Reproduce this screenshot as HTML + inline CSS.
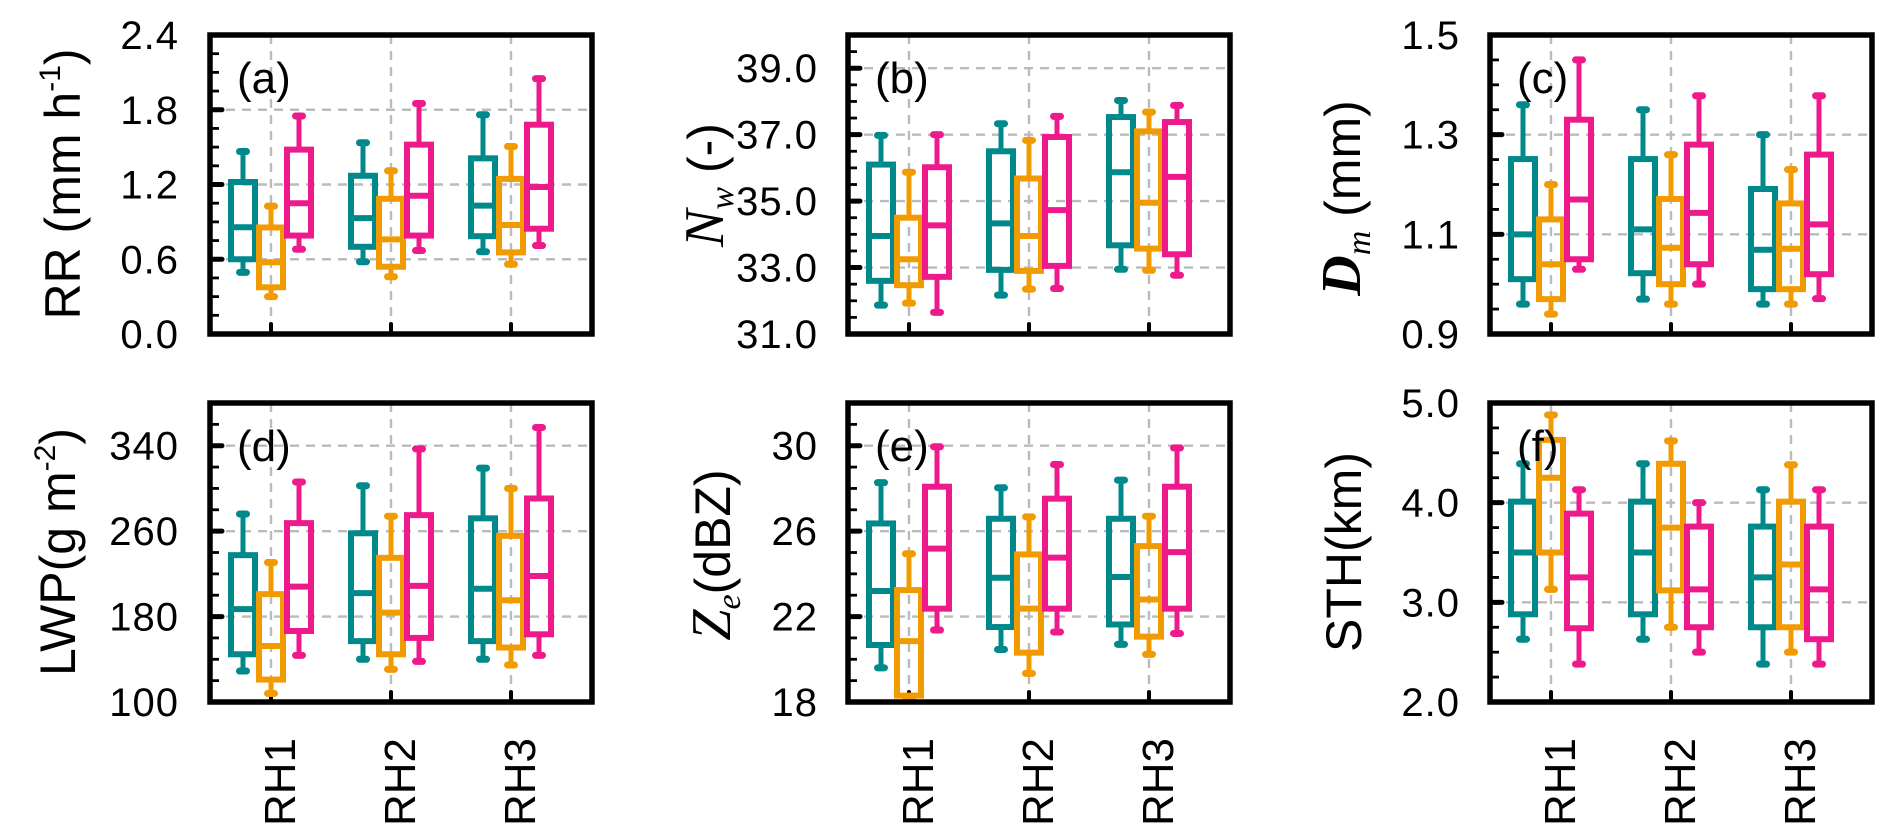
<!DOCTYPE html>
<html><head><meta charset="utf-8"><style>
html,body{margin:0;padding:0;background:#fff;}
svg{display:block;font-family:"Liberation Sans",sans-serif;}
</style></head><body>
<svg id="fig" width="1892" height="838" viewBox="0 0 1892 838" xmlns="http://www.w3.org/2000/svg"></svg>
<script>
const categories = ["RH1","RH2","RH3"];
const seriesNames = ["teal","orange","pink"];
const seriesColors = ["#00898a","#f29b00","#ee1a8c"];

// (a) RR
const rrHi  = [[1.465,1.535,1.76],[1.026,1.31,1.505],[1.75,1.85,2.05]];
const rrQ3  = [[1.22,1.27,1.41],[0.855,1.085,1.245],[1.48,1.52,1.68]];
const rrMed = [[0.857,0.93,1.03],[0.576,0.76,0.875],[1.05,1.11,1.18]];
const rrQ1  = [[0.60,0.70,0.785],[0.375,0.54,0.655],[0.79,0.79,0.845]];
const rrLo  = [[0.495,0.58,0.66],[0.30,0.46,0.56],[0.68,0.67,0.71]];
const rrTicks = ["0.0","0.6","1.2","1.8","2.4"];
// (b) Nw
const nwHi  = [[36.98,37.33,38.03],[35.87,36.83,37.68],[37.0,37.55,37.88]];
const nwQ3  = [[36.1,36.5,37.53],[34.5,35.68,37.1],[36.02,36.93,37.38]];
const nwMed = [[33.95,34.33,35.87],[33.25,33.95,34.95],[34.27,34.73,35.73]];
const nwQ1  = [[32.6,32.93,33.67],[32.47,32.9,33.57],[32.72,33.05,33.4]];
const nwLo  = [[31.87,32.17,32.95],[31.93,32.35,32.92],[31.65,32.37,32.77]];
const nwTicks = ["31.0","33.0","35.0","37.0","39.0"];
// (c) Dm
const dmHi  = [[1.36,1.35,1.3],[1.2,1.26,1.23],[1.45,1.378,1.378]];
const dmQ3  = [[1.251,1.251,1.191],[1.13,1.171,1.162],[1.33,1.28,1.26]];
const dmMed = [[1.10,1.11,1.069],[1.04,1.073,1.071],[1.17,1.143,1.12]];
const dmQ1  = [[1.01,1.022,0.99],[0.97,1.0,0.99],[1.05,1.04,1.02]];
const dmLo  = [[0.96,0.97,0.96],[0.94,0.96,0.96],[1.03,1.0,0.971]];
const dmTicks = ["0.9","1.1","1.3","1.5"];
// (d) LWP
const lwpHi  = [[276,302.5,319],[230.6,274,300],[306,337,357]];
const lwpQ3  = [[237.5,258,272],[201,235,255.6],[267.5,275,290.6]];
const lwpMed = [[187,202,206],[152.5,183.7,195.3],[208,208.7,218]];
const lwpQ1  = [[144.7,157,157],[121,144.7,151],[166.5,160,163.4]];
const lwpLo  = [[129,140,140],[108,130.6,134.7],[143.7,138,143.7]];
const lwpTicks = ["100","180","260","340"];
// (e) Ze
const zeHi  = [[28.27,28.03,28.39],[24.94,26.67,26.7],[29.95,29.12,29.9]];
const zeQ3  = [[26.36,26.58,26.58],[23.24,24.91,25.3],[28.08,27.52,28.08]];
const zeMed = [[23.2,23.82,23.85],[20.85,22.37,22.8],[25.18,24.76,25.02]];
const zeQ1  = [[20.67,21.51,21.63],[18.3,20.31,21.06],[22.37,22.37,22.37]];
const zeLo  = [[19.6,20.46,20.7],[18.1,19.34,20.23],[21.37,21.28,21.21]];
const zeTicks = ["18","22","26","30"];
// (f) STH
const sthHi  = [[4.39,4.39,4.13],[4.88,4.62,4.38],[4.13,4.0,4.13]];
const sthQ3  = [[4.01,4.01,3.76],[4.63,4.39,4.01],[3.89,3.76,3.76]];
const sthMed = [[3.5,3.5,3.25],[4.25,3.75,3.38],[3.25,3.13,3.13]];
const sthQ1  = [[2.88,2.88,2.75],[3.5,3.12,2.75],[2.74,2.75,2.63]];
const sthLo  = [[2.63,2.63,2.38],[3.13,2.75,2.5],[2.38,2.5,2.38]];
const sthTicks = ["2.0","3.0","4.0","5.0"];

const NS = "http://www.w3.org/2000/svg";
const svg = document.getElementById('fig');
function mk(tag, attrs, parent){
  const e = document.createElementNS(NS, tag);
  for (const k in attrs) e.setAttribute(k, attrs[k]);
  (parent||svg).appendChild(e);
  return e;
}

const panels = [
  {id:'a', x:210, y:35, min:0, max:2.4, minor:0.15, ticks:rrTicks, hi:rrHi,q3:rrQ3,med:rrMed,q1:rrQ1,lo:rrLo, lx:179, title:'rr', tx:62, ty:184},
  {id:'b', x:848, y:35, min:31, max:40, minor:0.5, ticks:nwTicks, hi:nwHi,q3:nwQ3,med:nwMed,q1:nwQ1,lo:nwLo, lx:818, title:'nw', tx:705, ty:185},
  {id:'c', x:1490, y:35, min:0.9, max:1.5, minor:0.05, ticks:dmTicks, hi:dmHi,q3:dmQ3,med:dmMed,q1:dmQ1,lo:dmLo, lx:1460, title:'dm', tx:1342, ty:198},
  {id:'d', x:210, y:403, min:100, max:380, minor:20, ticks:lwpTicks, hi:lwpHi,q3:lwpQ3,med:lwpMed,q1:lwpQ1,lo:lwpLo, lx:179, title:'lwp', tx:57, ty:552},
  {id:'e', x:848, y:403, min:18, max:32, minor:1, ticks:zeTicks, hi:zeHi,q3:zeQ3,med:zeMed,q1:zeQ1,lo:zeLo, lx:818, title:'ze', tx:712, ty:555},
  {id:'f', x:1490, y:403, min:2, max:5, minor:0.25, ticks:sthTicks, hi:sthHi,q3:sthQ3,med:sthMed,q1:sthQ1,lo:sthLo, lx:1460, title:'sth', tx:1343, ty:552}
];
const W = 382, H = 299;

panels.forEach(p => {
  const g = mk('g', {});
  
  
  const yS = v => p.y + H - (v - p.min) / (p.max - p.min) * H;
  const xS = i => p.x + 61 + i * 120;

  p.ticks.forEach(t => {
    const v = parseFloat(t);
    if (v <= p.min || v >= p.max) return;
    const gl = mk('line', {x1:p.x, x2:p.x+W, y1:yS(v), y2:yS(v), stroke:'#bbb', 'stroke-width':2.4, 'stroke-dasharray':'9 7'}, g);
    
    
  });
  categories.forEach((c, i) => {
    const gl = mk('line', {x1:xS(i), x2:xS(i), y1:p.y, y2:p.y+H, stroke:'#bbb', 'stroke-width':2.4, 'stroke-dasharray':'9 7'}, g);
    
    
  });
  const n = Math.round((p.max - p.min) / p.minor);
  for (let k = 1; k < n; k++) {
    const v = p.min + k * p.minor;
    mk('line', {x1:p.x, x2:p.x+9, y1:yS(v), y2:yS(v), stroke:'#000', 'stroke-width':2.8}, g);
  }
  p.ticks.forEach(t => {
    const v = parseFloat(t);
    if (v > p.min && v < p.max) mk('line', {x1:p.x, x2:p.x+12, y1:yS(v), y2:yS(v), stroke:'#000', 'stroke-width':5,'stroke-linecap':'round'}, g);
    const tl = mk('text', {x:p.lx, y:yS(v)+14, 'font-size':40, 'letter-spacing':'1', 'text-anchor':'end', fill:'#000'}, g);
    tl.textContent = t;
    
    
  });
  categories.forEach((c, i) => {
    mk('line', {x1:xS(i), x2:xS(i), y1:p.y+H, y2:p.y+H-10, stroke:'#000', 'stroke-width':4,'stroke-linecap':'round'}, g);
  });

  for (let s = 0; s < 3; s++) {
    for (let i = 0; i < 3; i++) {
      const cx = xS(i) + (s - 1) * 28;
      const col = seriesColors[s];
      const bg = mk('g', {stroke:col, fill:'none'}, g);
      
      
      const hi = yS(p.hi[s][i]), q3 = yS(p.q3[s][i]), md = yS(p.med[s][i]), q1 = yS(p.q1[s][i]), lo = yS(p.lo[s][i]);
      mk('line', {x1:cx, x2:cx, y1:hi, y2:q3, 'stroke-width':5}, bg);
      mk('line', {x1:cx, x2:cx, y1:q1, y2:lo, 'stroke-width':5}, bg);
      mk('line', {x1:cx-3.5, x2:cx+3.5, y1:hi, y2:hi, 'stroke-width':7, 'stroke-linecap':'round'}, bg);
      mk('line', {x1:cx-3.5, x2:cx+3.5, y1:lo, y2:lo, 'stroke-width':7, 'stroke-linecap':'round'}, bg);
      mk('rect', {x:cx-12, y:q3, width:24, height:Math.max(0, q1-q3), 'stroke-width':6}, bg);
      mk('line', {x1:cx-12, x2:cx+12, y1:md, y2:md, 'stroke-width':6}, bg);
    }
  }
  const fr = mk('rect', {x:p.x, y:p.y, width:W, height:H, fill:'none', stroke:'#000', 'stroke-width':5.5}, g);
  
  
  const pl = mk('text', {x:p.x+27, y:p.y+58, 'font-size':44, fill:'#000'}, g);
  pl.textContent = '(' + p.id + ')';
  
  
  if (p.y > 300) {
    categories.forEach((c, i) => {
      const cl = mk('text', {x:0, y:0, 'font-size':44, 'text-anchor':'end', fill:'#000', transform:'translate(' + (xS(i)+24) + ',' + (p.y+H+36) + ') rotate(-90)'}, g);
      cl.textContent = c;
      
      
    });
  }
  const at = mk('text', {x:0, y:0, 'font-size':50, 'text-anchor':'middle', fill:'#000', transform:'translate(' + (p.tx+18) + ',' + p.ty + ') rotate(-90)'}, g);
  
  
  if (p.title === 'rr') at.innerHTML = 'RR (mm h<tspan font-size="30" dy="-20">-1</tspan><tspan dy="20">)</tspan>';
  else if (p.title === 'nw') at.innerHTML = '<tspan font-family="Liberation Serif" font-style="italic" font-size="56">N</tspan><tspan font-family="Liberation Serif" font-style="italic" font-size="34" dy="10">w</tspan><tspan dy="-10"> (-)</tspan>';
  else if (p.title === 'dm') at.innerHTML = '<tspan font-family="Liberation Serif" font-style="italic" font-weight="bold" font-size="56">D</tspan><tspan font-family="Liberation Serif" font-style="italic" font-size="34" dy="10">m</tspan><tspan dy="-10"> (mm)</tspan>';
  else if (p.title === 'lwp') at.innerHTML = 'LWP(g m<tspan font-size="30" dy="-20">-2</tspan><tspan dy="20">)</tspan>';
  else if (p.title === 'ze') at.innerHTML = '<tspan font-family="Liberation Serif" font-style="italic" font-size="56">Z</tspan><tspan font-family="Liberation Serif" font-style="italic" font-size="34" dy="10">e</tspan><tspan dy="-10">(dBZ)</tspan>';
  else at.textContent = 'STH(km)';
});
</script>
</body></html>
